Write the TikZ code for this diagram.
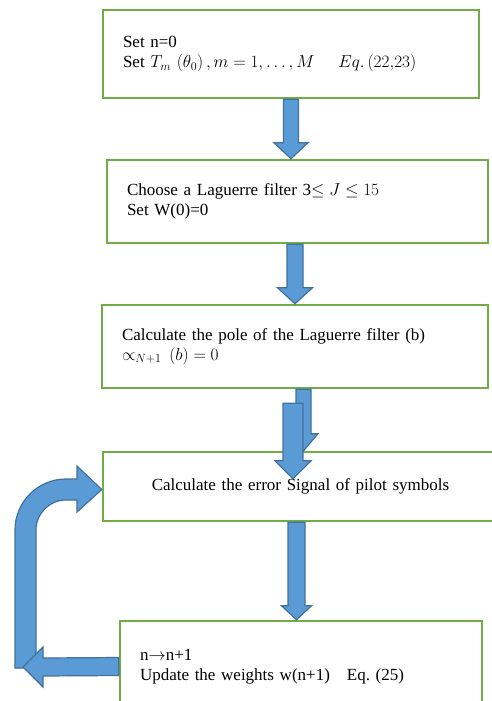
\documentclass[tikz,border=0pt]{standalone}
\usepackage{fontspec}
\setmainfont{Liberation Serif}
\usepackage{amsmath}
\usepackage{xcolor}
\usetikzlibrary{positioning, calc}
\frenchspacing

\definecolor{boxgreen}{HTML}{70AD47}
\definecolor{arrowfill}{HTML}{5B9BD5}
\definecolor{arrowline}{HTML}{41719C}

\tikzset{
	stepbox/.style={draw=boxgreen, line width=2.5pt, fill=white, align=left, inner xsep=20pt, inner ysep=0pt},
	blockarrow/.style={fill=arrowfill, draw=arrowline, line width=1.2pt, line join=miter}
}

% #1 start, #2 tip, #3 half shaft, #4 half head, #5 head length
\newcommand{\blkarrow}[5]{%
	\filldraw[blockarrow] ($(#1)+(-#3,0)$) -- ($(#2)+(-#3,-#5)$) -- ($(#2)+(-#4,-#5)$) -- (#2)
	-- ($(#2)+(#4,-#5)$) -- ($(#2)+(#3,-#5)$) -- ($(#1)+(#3,0)$) -- cycle;}

\begin{document}
\begin{tikzpicture}[x=1pt, y=-1pt, font=\fontsize{17pt}{20pt}\selectfont]
			\useasboundingbox (0,0) rectangle (492,701);
			\clip (0,0) rectangle (492,701);
			
			\node[stepbox, text width=336pt, minimum height=88pt] (b1) at (291,54)
				{Set n=0\\Set $T_m\ (\theta_0)\,, m = 1, \ldots, M$\hspace{1.4em}$Eq.\,(22{,}23)$};
			\node[stepbox, text width=341pt, minimum height=83pt] (b2) at (297.5,201.5)
				{Choose a Laguerre filter 3$\leq J \leq 15$\\Set W(0)=0};
			\node[stepbox, text width=346pt, minimum height=83pt] (b3) at (295,346.5)
				{Calculate the pole of the Laguerre filter (b)\\$\propto_{N+1}\,(b) = 0$};
			\node[stepbox, align=center, text width=355pt, minimum height=69pt] (b4) at (300.5,486.5)
				{Calculate the error Signal of pilot symbols};
			\node[stepbox, text width=322pt, minimum height=91pt] (b5) at (301,666.5)
				{n$\rightarrow$n+1\\Update the weights w(n+1)~~~Eq. (25)};
			
			% arrow x positions
			\coordinate (c1) at (291,0);
			\coordinate (c2) at (295,0);
			\coordinate (c3) at (303.5,0);
			\coordinate (c4) at (296.5,0);
			\coordinate (f3) at (293,0);
			\coordinate (f3s) at ($(f3 |- b3.south)+(0,14)$);
			\coordinate (f3t) at ($(f3 |- b4.north)+(0,28)$);
			
			\blkarrow{c1 |- b1.south}{c1 |- b2.north}{7.5}{17}{16}
			\blkarrow{c2 |- b2.south}{c2 |- b3.north}{8}{17.5}{16}
			\blkarrow{c3 |- b3.south}{c3 |- b4.north}{7.5}{14.5}{17}
			\blkarrow{f3s}{f3t}{10}{18}{18}
			\blkarrow{c4 |- b4.south}{c4 |- b5.north}{8.5}{15}{14}
			
			% loop back
			\coordinate (ub) at (25.5,668);
			\filldraw[blockarrow] ($(ub)+(-10.5,0)$) -- (15,530) arc[start angle=180, end angle=270, radius=51]
				-- (77,479) -- (77,466) -- ($(b4.west)+(0,3)$) -- (77,512) -- (77,500) -- (66,500)
				arc[start angle=270, end angle=180, radius=30] -- ($(ub)+(10.5,0)$) -- cycle;
			\coordinate (lt) at (23,667);
			\filldraw[blockarrow] ($(b5.west)+(0,-9)$) -- ($(lt)+(20,-9)$) -- ($(lt)+(20,-20)$) -- (lt)
				-- ($(lt)+(20,20)$) -- ($(lt)+(20,9)$) -- ($(b5.west)+(0,9)$) -- cycle;
		\end{tikzpicture}
\end{document}
